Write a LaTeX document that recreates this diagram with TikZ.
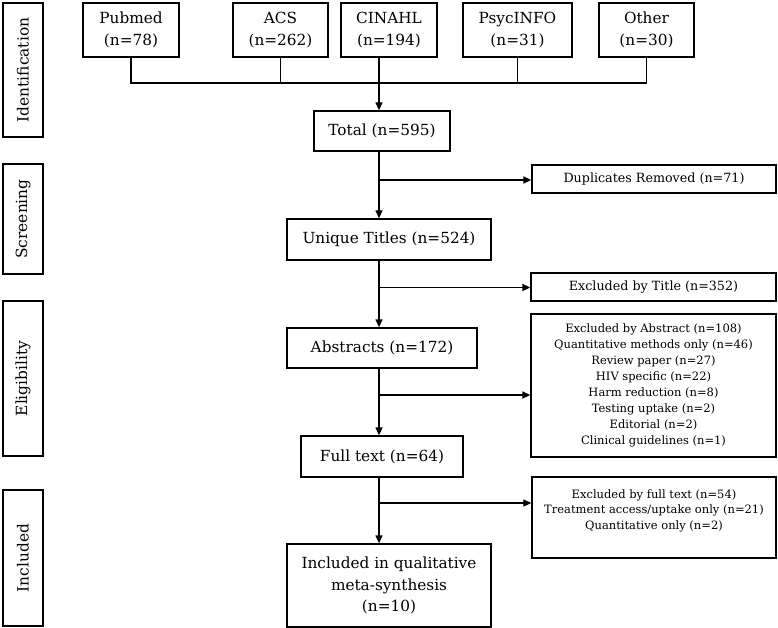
\documentclass[tikz,border=0pt]{standalone}
\usepackage{fontspec}
\setmainfont{DejaVu Serif}
\usepackage{tikz}
\usetikzlibrary{arrows.meta, positioning}

\begin{document}
\begin{tikzpicture}[
        x=1pt, y=-1pt,
        line width=1.3pt,
        stage/.style={
            draw,
            rotate=90,
            minimum height=40pt,
            inner sep=0pt,
            font=\fontsize{15.4}{20}\selectfont
        },
        box/.style={
            draw,
            minimum height=40pt,
            inner sep=2pt,
            font=\fontsize{15.3}{21.5}\selectfont,
            align=center
        },
        note/.style={
            draw,
            inner sep=3pt,
            font=\fontsize{11.5}{15.9}\selectfont,
            align=center
        },
        arr/.style={-{Triangle[length=8pt,width=7pt]}}
    ]
        \useasboundingbox (0,0) rectangle (778,628);

        % stufen links
        \node[stage, minimum width=134pt] (ident) at (23,70) {Identification};
        \node[stage, minimum width=110pt] (screen) at (23,219) {Screening};
        \node[stage, minimum width=155pt] (elig) at (23,378.5) {Eligibility};
        \node[stage, minimum width=136pt] (incl) at (23,558) {Included};

        % datenbanken
        \node[box, minimum width=96pt, minimum height=54pt] (pubmed) at (131,30) {Pubmed\\(n=78)};
        \node[box, minimum width=95pt, minimum height=54pt] (acs) at (280.5,30) {ACS\\(n=262)};
        \node[box, minimum width=96pt, minimum height=54pt] (cinahl) at (389,30) {CINAHL\\(n=194)};
        \node[box, minimum width=109pt, minimum height=54pt] (psyc) at (517.5,30) {PsycINFO\\(n=31)};
        \node[box, minimum width=95pt, minimum height=54pt] (other) at (646.5,30) {Other\\(n=30)};

        % hauptfluss
        \node[box, minimum width=136pt] (total) at (382,131) {Total (n=595)};
        \node[box, minimum width=204pt, minimum height=41pt] (unique) at (389,239.5) {Unique Titles (n=524)};
        \node[box, minimum width=190pt] (abstracts) at (382,348) {Abstracts (n=172)};
        \node[box, minimum width=162pt, minimum height=41pt] (fulltext) at (382,456.5) {Full text (n=64)};
        \node[box, minimum width=204pt, minimum height=83pt] (included) at (389,585.5) {Included in qualitative\\meta-synthesis\\(n=10)};

        % ausschluesse
        \node[note, minimum width=244pt, minimum height=28pt, font=\fontsize{12.7}{16}\selectfont] (dup) at (654,179) {Duplicates Removed (n=71)};
        \node[note, minimum width=245pt, minimum height=28pt, font=\fontsize{12.7}{16}\selectfont] (extitle) at (653.5,287) {Excluded by Title (n=352)};
        \node[note, minimum width=245pt, minimum height=143pt] (exabs) at (653.5,385.5) {Excluded by Abstract (n=108)\\Quantitative methods only (n=46)\\Review paper (n=27)\\HIV specific (n=22)\\Harm reduction (n=8)\\Testing uptake (n=2)\\Editorial (n=2)\\Clinical guidelines (n=1)};
        \node[note, minimum width=244pt, minimum height=81pt] (exfull) at (654,517.5) {Excluded by full text (n=54)\\Treatment access/uptake only (n=21)\\Quantitative only (n=2)\\~};

        % sammellinie und stamm
        \coordinate (join) at (379,83);
        \coordinate (b1) at (379,180);
        \coordinate (b2) at (379,287.5);
        \coordinate (b3) at (379,395);
        \coordinate (b4) at (379,503);

        \draw (pubmed.south) -- (pubmed.south |- join) -- (other.south |- join) -- (other.south);
        \draw (acs.south) -- (acs.south |- join);
        \draw (psyc.south) -- (psyc.south |- join);
        \draw[arr] (cinahl.south -| join) -- (total.north -| join);
        \draw[arr] (total.south -| join) -- (unique.north -| join);
        \draw[arr] (unique.south -| join) -- (abstracts.north -| join);
        \draw[arr] (abstracts.south -| join) -- (fulltext.north -| join);
        \draw[arr] (fulltext.south -| join) -- (included.north -| join);

        % seitenpfeile
        \draw[arr] (b1) -- (dup.west |- b1);
        \draw[arr] (b2) -- (extitle.west |- b2);
        \draw[arr] (b3) -- (exabs.west |- b3);
        \draw[arr] (b4) -- (exfull.west |- b4);
    \end{tikzpicture}
\end{document}
